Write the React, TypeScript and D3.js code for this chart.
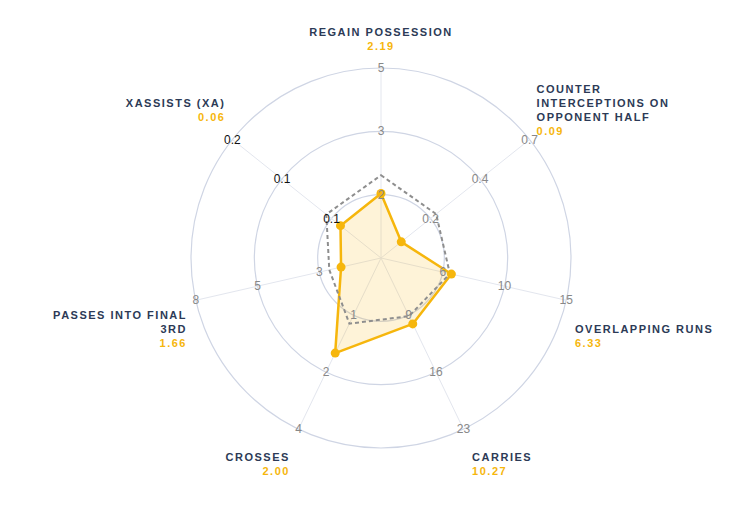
import React, { useRef, useEffect } from "react";
import * as d3 from "d3";

// axis names, already split into display lines
const categories: string[][] = [
  ["REGAIN POSSESSION"],
  ["COUNTER", "INTERCEPTIONS ON", "OPPONENT HALF"],
  ["OVERLAPPING RUNS"],
  ["CARRIES"],
  ["CROSSES"],
  ["PASSES INTO FINAL", "3RD"],
  ["XASSISTS (XA)"],
];

// player values (solid) and comparison values (dashed)
const playerValues = [2.19, 0.09, 6.33, 10.27, 2.0, 1.66, 0.06];
const averageValues = [2.54, 0.245, 6.22, 9.33, 1.38, 2.15, 0.081];

// per-axis scale range
const axisMin = [0.95, 0, 1.2, 2.3, 0, 0, 0];
const axisMax = [4.6, 0.66, 14.7, 23, 3.6, 7.7, 0.22];

// tick labels at the three rings
const tickLabels = [
  ["2", "3", "5"],
  ["0.2", "0.4", "0.7"],
  ["6", "10", "15"],
  ["9", "16", "23"],
  ["1", "2", "4"],
  ["3", "5", "8"],
  ["0.1", "0.1", "0.2"],
];

const RadarChart = () => {
  const svgRef = useRef<SVGSVGElement | null>(null);

  useEffect(() => {
    const width = 750;
    const height = 505;
    const cx = 381;
    const cy = 258;
    const radius = 190;
    const n = categories.length;
    const font = "'Liberation Sans', Arial, Helvetica, sans-serif";
    const orange = "#f6b60c";
    const navy = "#2c3a56";

    const svg = d3.select(svgRef.current);
    svg.selectAll("*").remove();
    svg.attr("width", width).attr("height", height);

    const g = svg.append("g").attr("transform", `translate(${cx},${cy})`);

    const angle = d3
      .scaleLinear()
      .domain([0, n])
      .range([0, 2 * Math.PI]);

    const scales = categories.map((_, i) =>
      d3.scaleLinear().domain([axisMin[i], axisMax[i]]).range([0, radius])
    );

    const ringRadii = [1, 2, 3].map((k) => (radius * k) / 3);

    // rings
    g.selectAll("circle.ring")
      .data(ringRadii)
      .enter()
      .append("circle")
      .attr("class", "ring")
      .attr("r", (d) => d)
      .attr("fill", "none")
      .attr("stroke", "#cfd5e4")
      .attr("stroke-width", 1.2);

    // spokes
    g.selectAll("line.spoke")
      .data(categories)
      .enter()
      .append("line")
      .attr("class", "spoke")
      .attr("x1", 0)
      .attr("y1", 0)
      .attr("x2", (_, i) => radius * Math.sin(angle(i)))
      .attr("y2", (_, i) => -radius * Math.cos(angle(i)))
      .attr("stroke", "#e3e6ee")
      .attr("stroke-width", 1);

    const radial = (values: number[]) =>
      d3
        .lineRadial<number>()
        .angle((_, i) => angle(i))
        .radius((d, i) => scales[i](d))
        .curve(d3.curveLinearClosed)(values);

    // player area
    g.append("path")
      .attr("d", radial(playerValues))
      .attr("fill", orange)
      .attr("fill-opacity", 0.16)
      .attr("stroke", orange)
      .attr("stroke-width", 2.5)
      .attr("stroke-linejoin", "round");

    // comparison outline
    g.append("path")
      .attr("d", radial(averageValues))
      .attr("fill", "none")
      .attr("stroke", "#8e8e8e")
      .attr("stroke-width", 2)
      .attr("stroke-dasharray", "4,3");

    // player points
    g.selectAll("circle.pt")
      .data(playerValues)
      .enter()
      .append("circle")
      .attr("class", "pt")
      .attr("cx", (d, i) => scales[i](d) * Math.sin(angle(i)))
      .attr("cy", (d, i) => -scales[i](d) * Math.cos(angle(i)))
      .attr("r", 4.5)
      .attr("fill", orange);

    // tick labels on every spoke
    categories.forEach((_, i) => {
      const a = angle(i);
      g.selectAll(`text.tick${i}`)
        .data(tickLabels[i])
        .enter()
        .append("text")
        .attr("x", (_, k) => ringRadii[k] * Math.sin(a))
        .attr("y", (_, k) => -ringRadii[k] * Math.cos(a))
        .attr("text-anchor", "middle")
        .attr("dominant-baseline", "central")
        .attr("font-family", font)
        .attr("font-size", 12)
        .attr("fill", i === 6 ? "#111" : "#888")
        .text((d) => d);
    });

    // axis labels with value underneath
    const lineH = 14;
    categories.forEach((lines, i) => {
      const a = angle(i);
      const s = Math.sin(a);
      const c = Math.cos(a);
      const all = [...lines, playerValues[i].toFixed(2)];
      const count = all.length;
      const rx = c < -0.5 ? 210 : 199;
      const x = Math.abs(s) < 0.01 ? 0 : s * rx;
      const anchor = Math.abs(s) < 0.01 ? "middle" : s > 0 ? "start" : "end";

      let first: number;
      if (c > 0.9) first = -212 - (count - 1) * lineH;
      else if (c > 0.3) first = -148 - ((count - 1) * lineH) / 2;
      else if (c > -0.5) first = 84.7 - (count - 1) * lineH;
      else first = 199;

      const t = g
        .append("text")
        .attr("text-anchor", anchor)
        .attr("font-family", font)
        .attr("font-size", 11)
        .attr("font-weight", "bold")
        .attr("letter-spacing", 1.5);

      all.forEach((line, k) => {
        t.append("tspan")
          .attr("x", x)
          .attr("y", first + k * lineH)
          .attr("dominant-baseline", "central")
          .attr("fill", k === count - 1 ? orange : navy)
          .text(line);
      });
    });
  }, []);

  return (
    <svg
      ref={svgRef}
      style={{ position: "absolute", left: 0, top: 0, background: "#fff" }}
    ></svg>
  );
};

export default function App() {
  return <RadarChart />;
}
